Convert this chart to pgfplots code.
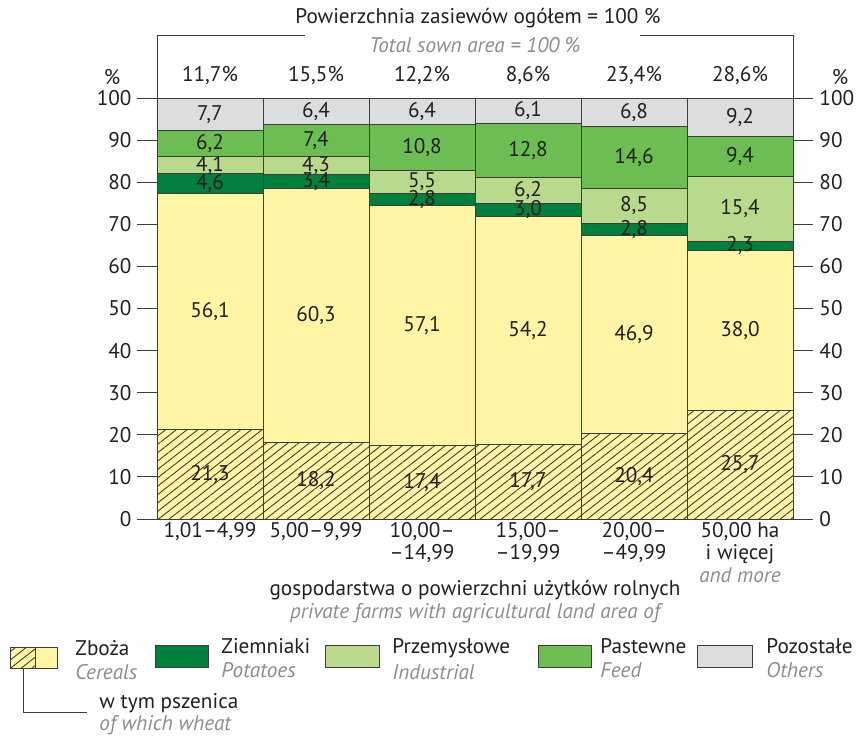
\documentclass[border=0pt]{standalone}
\usepackage{pgfplots}
\pgfplotsset{compat=1.18}
\usepackage{pgfplotstable}
\usepackage{fontspec}
\setmainfont{PT Sans}
\usetikzlibrary{patterns.meta}
\definecolor{cyel}{HTML}{FFF5A5}
\definecolor{cdg}{HTML}{007F3E}
\definecolor{clg}{HTML}{B9DA8C}
\definecolor{cmg}{HTML}{6CBD52}
\definecolor{cgr}{HTML}{DCDDDE}
\definecolor{ctx}{HTML}{231F20}
\definecolor{cgt}{HTML}{8A8C8E}
\definecolor{cln}{HTML}{3C3C3C}

\pgfplotstableread{
x wheat cereal pot ind feed oth
0 21.3 56.1 4.6 4.1 6.2 7.7
1 18.2 60.3 3.4 4.3 7.4 6.4
2 17.4 57.1 2.8 5.5 10.8 6.4
3 17.7 54.2 3.0 6.2 12.8 6.1
4 20.4 46.9 2.8 8.5 14.6 6.8
5 25.7 38.0 2.3 15.4 9.4 9.2
}\data

\pgfplotsset{
  segstyle/.style={draw=cln, line width=0.5pt,
    point meta=explicit,
    nodes near coords={\pgfmathprintnumber[fixed,fixed zerofill,precision=1,use comma,assume math mode=true]{\pgfplotspointmeta}},
    every node near coord/.append style={anchor=center, text=ctx}},
}

\begin{document}
\fontsize{10.6}{12.7}\selectfont
\begin{tikzpicture}[text=ctx]
\path[use as bounding box] (0,0) rectangle (430pt,-367.5pt);
\begin{axis}[
  at={(78.5pt,-259.5pt)}, anchor=south west,
  scale only axis, width=318pt, height=210.5pt,
  ybar stacked, bar width=1,
  xmin=-0.5, xmax=5.5, ymin=0, ymax=100,
  clip=false,
  axis line style={cln, line width=0.5pt},
  xtick={0,...,5},
  xticklabels={1{,}01--4{,}99, 5{,}00--9{,}99, 10{,}00--\\--14{,}99, 15{,}00--\\--19{,}99, 20{,}00--\\--49{,}99, 50{,}00 ha\\i więcej\\{\color{cgt}\itshape and more}},
  xticklabel style={align=center, text=ctx, yshift=12pt, font=\fontsize{10.6}{11.2}\selectfont},
  x tick style={draw=none},
  ytick={0,10,...,100},
  ytick pos=left,
  tick align=outside,
  major tick length=10pt,
  y tick style={cln, line width=0.5pt},
  yticklabel style={text=ctx, xshift=1pt},
  /pgf/number format/assume math mode=true,
]
\addplot[segstyle, fill=cyel, postaction={pattern={Lines[angle=38,distance=3.3pt,line width=0.45pt]}, pattern color=cln}] table[x=x, y=wheat, meta=wheat] {\data};
\addplot[segstyle, fill=cyel] table[x=x, y=cereal, meta=cereal] {\data};
\addplot[segstyle, fill=cdg] table[x=x, y=pot, meta=pot] {\data};
\addplot[segstyle, fill=clg] table[x=x, y=ind, meta=ind] {\data};
\addplot[segstyle, fill=cmg] table[x=x, y=feed, meta=feed] {\data};
\addplot[segstyle, fill=cgr] table[x=x, y=oth, meta=oth] {\data};
\end{axis}
\begin{axis}[
  at={(78.5pt,-259.5pt)}, anchor=south west,
  scale only axis, width=318pt, height=210.5pt,
  xmin=-0.5, xmax=5.5, ymin=0, ymax=100,
  axis x line=none, axis y line*=right,
  axis line style={cln, line width=0.5pt},
  ytick={0,10,...,100},
  tick align=outside,
  major tick length=10pt,
  y tick style={cln, line width=0.5pt},
  yticklabel style={text=ctx, xshift=-0.5pt},
  /pgf/number format/assume math mode=true,
]
\addplot[draw=none] coordinates {(0,0)};
\end{axis}
\begin{scope}[x=0.5pt,y=-0.5pt]
  % title bracket
  \draw[cln, line width=0.5pt] (157,98) -- (157,35) -- (305,35);
  \draw[cln, line width=0.5pt] (640,35) -- (793,35) -- (793,98);
  \node at (478,18) {Powierzchnia zasiewów ogółem = 100 \%};
  \node[text=cgt, font=\itshape] at (475,45) {Total sown area = 100 \%};
  \node at (112,77) {\%};
  \node at (840,77) {\%};
  \foreach \xx/\tt in {210/{11,7\%},316/{15,5\%},422/{12,2\%},528/{8,6\%},634/{23,4\%},740/{28,6\%}}
    \node at (\xx,76) {\tt};
  % x title
  \node at (475,590) {gospodarstwa o powierzchni użytków rolnych};
  \node[text=cgt, font=\itshape] at (475,613) {private farms with agricultural land area of};
  % legend
  \fill[cyel] (10,647) rectangle (57,668);
  \path[pattern={Lines[angle=38,distance=3.3pt,line width=0.45pt]}, pattern color=cln] (10,647) rectangle (35,668);
  \draw[cln, line width=0.5pt] (10,647) rectangle (57,668);
  \draw[cln, line width=0.5pt] (35,647) -- (35,668);
  \draw[cln, line width=0.5pt] (23,668) -- (23,712) -- (87,712);
  \filldraw[fill=cdg, draw=cln, line width=0.5pt] (155,645) rectangle (208,667);
  \filldraw[fill=clg, draw=cln, line width=0.5pt] (325,645) rectangle (379,667);
  \filldraw[fill=cmg, draw=cln, line width=0.5pt] (538,645) rectangle (591,667);
  \filldraw[fill=cgr, draw=cln, line width=0.5pt] (697,645) rectangle (752,667);
  \node[anchor=west] at (68,648) {Zboża};
  \node[anchor=west, text=cgt, font=\itshape] at (68,672) {Cereals};
  \node[anchor=west] at (214,646) {Ziemniaki};
  \node[anchor=west, text=cgt, font=\itshape] at (214,670) {Potatoes};
  \node[anchor=west] at (385,648) {Przemysłowe};
  \node[anchor=west, text=cgt, font=\itshape] at (385,672) {Industrial};
  \node[anchor=west] at (593,646) {Pastewne};
  \node[anchor=west, text=cgt, font=\itshape] at (593,670) {Feed};
  \node[anchor=west] at (759,646) {Pozostałe};
  \node[anchor=west, text=cgt, font=\itshape] at (759,670) {Others};
  \node[anchor=west] at (92,703) {w tym pszenica};
  \node[anchor=west, text=cgt, font=\itshape] at (92,725) {of which wheat};
\end{scope}
\end{tikzpicture}
\end{document}
